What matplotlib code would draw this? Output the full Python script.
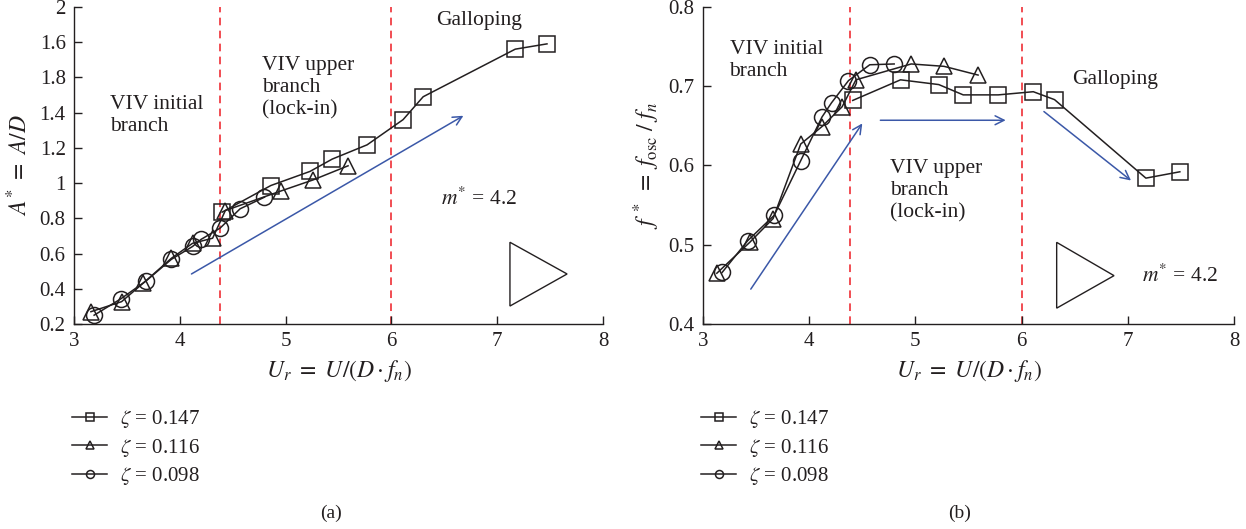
import matplotlib.pyplot as plt

plt.rcParams["font.family"] = ["Liberation Serif", "DejaVu Serif"]
plt.rcParams["mathtext.fontset"] = "stix"
plt.rcParams["font.size"] = 15

# amplitude response A* vs reduced velocity
sq_ur = [4.40, 4.86, 5.23, 5.44, 5.77, 6.11, 6.30, 7.17, 7.47]
sq_amp = [0.835, 0.986, 1.066, 1.136, 1.217, 1.36, 1.49, 1.76, 1.79]
tri_ur = [3.16, 3.45, 3.65, 3.92, 4.12, 4.31, 4.43, 4.96, 5.26, 5.59]
tri_amp = [0.27, 0.327, 0.43, 0.573, 0.658, 0.687, 0.844, 0.956, 1.018, 1.098]
cir_ur = [3.19, 3.44, 3.68, 3.92, 4.12, 4.20, 4.38, 4.57, 4.80]
cir_amp = [0.25, 0.342, 0.444, 0.567, 0.64, 0.68, 0.744, 0.854, 0.92]

# frequency response f* vs reduced velocity
sq_ur_f = [4.41, 4.86, 5.22, 5.45, 5.78, 6.11, 6.31, 7.17, 7.49]
sq_freq = [0.682, 0.708, 0.702, 0.689, 0.689, 0.693, 0.683, 0.584, 0.592]
tri_ur_f = [3.13, 3.44, 3.66, 3.92, 4.12, 4.31, 4.44, 4.96, 5.27, 5.59]
tri_freq = [0.464, 0.503, 0.533, 0.627, 0.649, 0.674, 0.708, 0.728, 0.725, 0.714]
cir_ur_f = [3.18, 3.42, 3.67, 3.92, 4.12, 4.21, 4.37, 4.57, 4.80]
cir_freq = [0.465, 0.505, 0.537, 0.606, 0.661, 0.679, 0.707, 0.727, 0.728]

damping = ["0.147", "0.116", "0.098"]
regime_bounds = [4.38, 6.0]

amp_ticks = [0.2, 0.4, 0.6, 0.8, 1.0, 1.2, 1.4, 1.6, 1.8, 2.0]
amp_ticklabels = ["0.2", "0.4", "0.6", "0.8", "1", "1.2", "1.4", "1.8", "1.6", "2"]
freq_ticks = [0.4, 0.5, 0.6, 0.7, 0.8]
freq_ticklabels = ["0.4", "0.5", "0.6", "0.7", "0.8"]

ink = "#231f20"
blue = "#3b58a8"
red = "#ed1c24"

fig = plt.figure(figsize=(12.46, 5.29), dpi=100)
ax1 = fig.add_axes([0.0594, 0.3875, 0.4246, 0.5995])
ax2 = fig.add_axes([0.5642, 0.3875, 0.4262, 0.5995])

mk = dict(color=ink, lw=1.1, markerfacecolor="none", markeredgecolor=ink,
          markeredgewidth=1.1, markersize=11.5)


def style_axes(ax):
    for side in ["top", "right"]:
        ax.spines[side].set_visible(False)
    for side in ["left", "bottom"]:
        ax.spines[side].set_color(ink)
        ax.spines[side].set_linewidth(1.0)
    ax.tick_params(direction="in", length=6, width=1.0, colors=ink, labelsize=15, pad=6)
    ax.set_xlim(3, 8)
    ax.set_xticks([3, 4, 5, 6, 7, 8])
    ax.set_xlabel(r"$U_r\ =\ U/(D \cdot f_n)$", fontsize=17, color=ink, labelpad=5)
    for xb in regime_bounds:
        ax.axvline(xb, color=red, lw=1.1, ls=(0, (5, 3.5)), zorder=1)


def arrow(ax, start, end):
    ax.annotate("", xy=end, xytext=start,
                arrowprops=dict(arrowstyle="->", color=blue, lw=1.1,
                                mutation_scale=16, shrinkA=0, shrinkB=0))


def flow_marker(ax, xs, ys):
    ax.fill(xs, ys, facecolor="white", edgecolor=ink, lw=1.0, zorder=2)


# (a) amplitude
style_axes(ax1)
ax1.set_ylim(0.2, 2.0)
ax1.set_yticks(amp_ticks)
ax1.set_yticklabels(amp_ticklabels)
ax1.set_ylabel(r"$A^{*}\ =\ A/D$", fontsize=17, color=ink, labelpad=5)
l1, = ax1.plot(sq_ur, sq_amp, marker="s", **mk)
l2, = ax1.plot(tri_ur, tri_amp, marker="^", **mk)
l3, = ax1.plot(cir_ur, cir_amp, marker="o", **mk)
arrow(ax1, (4.11, 0.484), (6.68, 1.382))
flow_marker(ax1, [7.12, 7.12, 7.66], [0.664, 0.302, 0.484])
ax1.text(3.34, 1.50, "VIV initial\nbranch", ha="left", va="top", color=ink,
         fontsize=15.5, linespacing=1.2)
ax1.text(4.78, 1.72, "VIV upper\nbranch\n(lock-in)", ha="left", va="top", color=ink,
         fontsize=15.5, linespacing=1.2)
ax1.text(6.42, 1.92, "Galloping", ha="left", va="center", color=ink, fontsize=15.5)
ax1.text(6.47, 0.914, r"$m^{*}$ = 4.2", ha="left", va="center", color=ink, fontsize=15.5)

# (b) frequency
style_axes(ax2)
ax2.set_ylim(0.4, 0.8)
ax2.set_yticks(freq_ticks)
ax2.set_yticklabels(freq_ticklabels)
ax2.set_ylabel(r"$f^{\,*}\ =\ f_{\mathrm{osc}}\ /\ f_n$", fontsize=17, color=ink, labelpad=5)
r1, = ax2.plot(sq_ur_f, sq_freq, marker="s", **mk)
r2, = ax2.plot(tri_ur_f, tri_freq, marker="^", **mk)
r3, = ax2.plot(cir_ur_f, cir_freq, marker="o", **mk)
arrow(ax2, (3.45, 0.444), (4.50, 0.653))
arrow(ax2, (4.67, 0.657), (5.85, 0.657))
arrow(ax2, (6.21, 0.668), (7.03, 0.581))
flow_marker(ax2, [6.33, 6.33, 6.87], [0.503, 0.420, 0.461])
ax2.text(3.25, 0.758, "VIV initial\nbranch", ha="left", va="top", color=ink,
         fontsize=15.5, linespacing=1.2)
ax2.text(4.76, 0.608, "VIV upper\nbranch\n(lock-in)", ha="left", va="top", color=ink,
         fontsize=15.5, linespacing=1.2)
ax2.text(6.48, 0.709, "Galloping", ha="left", va="center", color=ink, fontsize=15.5)
ax2.text(7.13, 0.461, r"$m^{*}$ = 4.2", ha="left", va="center", color=ink, fontsize=15.5)

# legends below each panel
for ax, handles in [(ax1, [l1, l2, l3]), (ax2, [r1, r2, r3])]:
    leg = ax.legend(handles, [r"$\zeta$ = " + d for d in damping],
                    loc="upper left", bbox_to_anchor=(-0.004, -0.266),
                    frameon=False, fontsize=15, handlelength=1.7,
                    handletextpad=0.6, labelspacing=0.3, borderpad=0,
                    borderaxespad=0, markerscale=0.5)
    for t in leg.get_texts():
        t.set_color(ink)

fig.text(0.266, 0.030, "(a)", ha="center", va="center", fontsize=14, color=ink)
fig.text(0.770, 0.030, "(b)", ha="center", va="center", fontsize=14, color=ink)

fig.savefig("out.png", dpi=100)
